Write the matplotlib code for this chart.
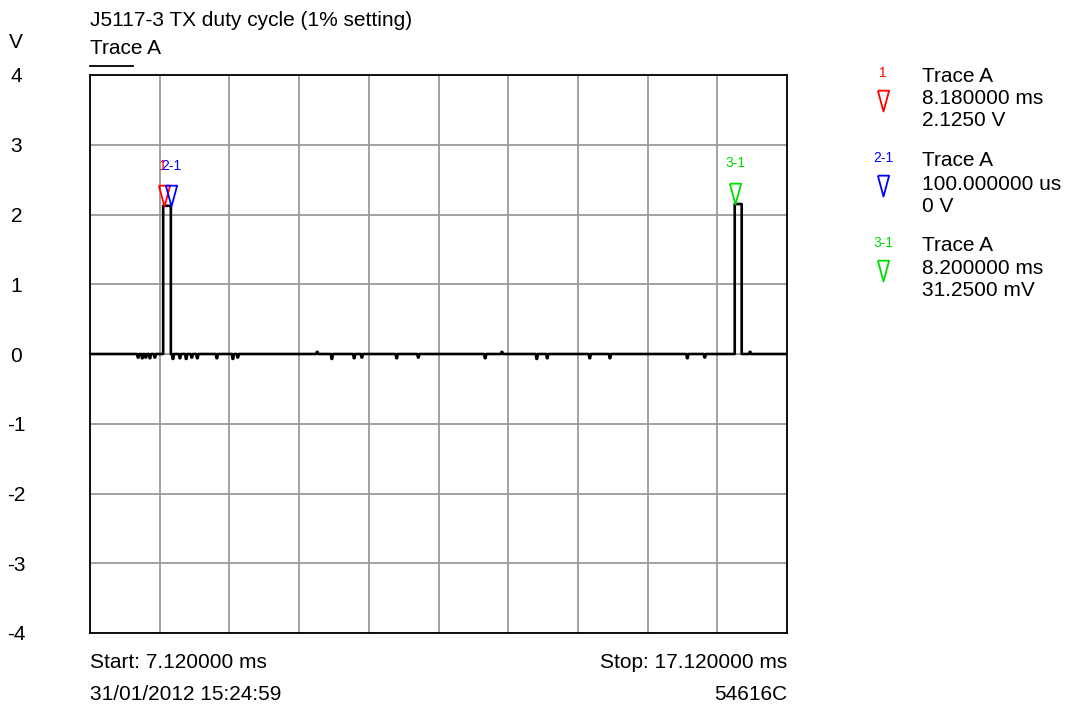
import matplotlib.pyplot as plt
import numpy as np
from matplotlib.lines import Line2D

plt.rcParams['font.family'] = ['Liberation Sans', 'DejaVu Sans']

# time axis (ms) and voltage axis (V)
t_start, t_stop = 7.12, 17.12
v_ticks = [4, 3, 2, 1, 0, -1, -2, -3, -4]

# the two TX pulses
pulse_rise = [8.17, 16.37]
pulse_fall = [8.28, 16.47]
pulse_level = [2.125, 2.15]

# small glitches on the baseline
glitch_t = [7.81, 7.87, 7.92, 7.98, 8.05, 8.31, 8.41, 8.50, 8.58, 8.66,
            8.94, 9.17, 9.24, 10.38, 10.59, 10.91, 11.02, 11.52, 11.83,
            12.79, 13.03, 13.53, 13.68, 14.29, 14.58, 15.69, 15.94, 16.59]
glitch_v = [-0.05, -0.06, -0.05, -0.06, -0.05, -0.07, -0.06, -0.07, -0.05, -0.06,
            -0.06, -0.07, -0.05, 0.03, -0.07, -0.06, -0.05, -0.06, -0.05,
            -0.06, 0.03, -0.07, -0.06, -0.06, -0.06, -0.06, -0.05, 0.03]

# markers
marker_names = ['1', '2-1', '3-1']
marker_t = [8.18, 8.28, 16.38]
marker_v = [2.125, 2.125, 2.15625]
marker_colors = ['#ff0000', '#0000ff', '#00dd00']
readout_time = ['8.180000 ms', '100.000000 us', '8.200000 ms']
readout_volt = ['2.1250 V', '0 V', '31.2500 mV']

W, H = 1066, 704
FS = 15
fig = plt.figure(figsize=(W / 100, H / 100), dpi=100)
ax = fig.add_axes([90 / W, 1 - 633 / H, 697 / W, 558 / H])

# build the trace from the events
pts = [(t_start, 0.0)]
for t, v in zip(glitch_t, glitch_v):
    pts += [(t - 0.015, 0.0), (t - 0.005, v), (t + 0.005, v), (t + 0.015, 0.0)]
for r, f, lv in zip(pulse_rise, pulse_fall, pulse_level):
    pts += [(r, 0.0), (r, lv), (f, lv), (f, 0.0)]
pts.append((t_stop, 0.0))
pts = sorted(pts, key=lambda p: p[0])
tt = [p[0] for p in pts]
vv = [p[1] for p in pts]
ax.plot(tt, vv, color='black', lw=1.9, zorder=3)

ax.set_xlim(t_start, t_stop)
ax.set_ylim(-4, 4)
ax.set_xticks(np.arange(t_start, t_stop + 0.001, 1.0))
ax.set_xticklabels([])
ax.set_yticks(v_ticks)
ax.set_yticklabels([str(v) for v in v_ticks], fontsize=FS, ha='center')
ax.tick_params(axis='both', length=0)
ax.tick_params(axis='y', pad=53)
ax.grid(True, color='#9a9a9a', lw=1.3)
ax.set_axisbelow(True)
for s in ax.spines.values():
    s.set_color('black')
    s.set_linewidth(1.3)

# narrow down-pointing triangle with its tip at the data point
tri = [(-0.27, 1.0), (0.27, 1.0), (0.0, 0.0), (-0.27, 1.0)]
for name, t, v, c in zip(marker_names, marker_t, marker_v, marker_colors):
    ax.plot(t, v, marker=tri, ms=30, mfc='none', mec=c, mew=1.3, zorder=4)
    ax.annotate(name, (t, v), xytext=(-1 if name == '1' else 0, 29),
                textcoords='offset points', ha='center', va='center',
                color=c, fontsize=10, zorder=5)

def px(x, y):
    return x / W, 1 - y / H

fig.text(*px(90, 20), 'J5117-3 TX duty cycle (1% setting)', fontsize=FS, va='center', ha='left')
fig.text(*px(90, 48), 'Trace A', fontsize=FS, va='center', ha='left')
fig.add_artist(Line2D([90 / W, 133 / W], [1 - 66 / H, 1 - 66 / H], color='black', lw=1.3))
fig.text(*px(16, 43), 'V', fontsize=FS, va='center', ha='center')

fig.text(*px(90, 663), 'Start: 7.120000 ms', fontsize=FS, va='center', ha='left')
fig.text(*px(787, 663), 'Stop: 17.120000 ms', fontsize=FS, va='center', ha='right')
fig.text(*px(90, 695), '31/01/2012 15:24:59', fontsize=FS, va='center', ha='left')
fig.text(*px(787, 695), '54616C', fontsize=FS, va='center', ha='right')

# marker readout panel
for i, (name, c) in enumerate(zip(marker_names, marker_colors)):
    y0 = 76 + i * 85
    fig.text(*px(883, y0 - 3), name, fontsize=10, color=c, va='center', ha='center')
    fig.text(*px(922, y0), 'Trace A', fontsize=FS, va='center', ha='left')
    fig.text(*px(922, y0 + 23), readout_time[i], fontsize=FS, va='center', ha='left')
    fig.text(*px(922, y0 + 45), readout_volt[i], fontsize=FS, va='center', ha='left')
    fig.add_artist(Line2D([883 / W], [1 - (y0 + 35) / H], marker=tri, ms=30,
                          mfc='none', mec=c, mew=1.3, transform=fig.transFigure))

fig.savefig('out.png', dpi=100)
